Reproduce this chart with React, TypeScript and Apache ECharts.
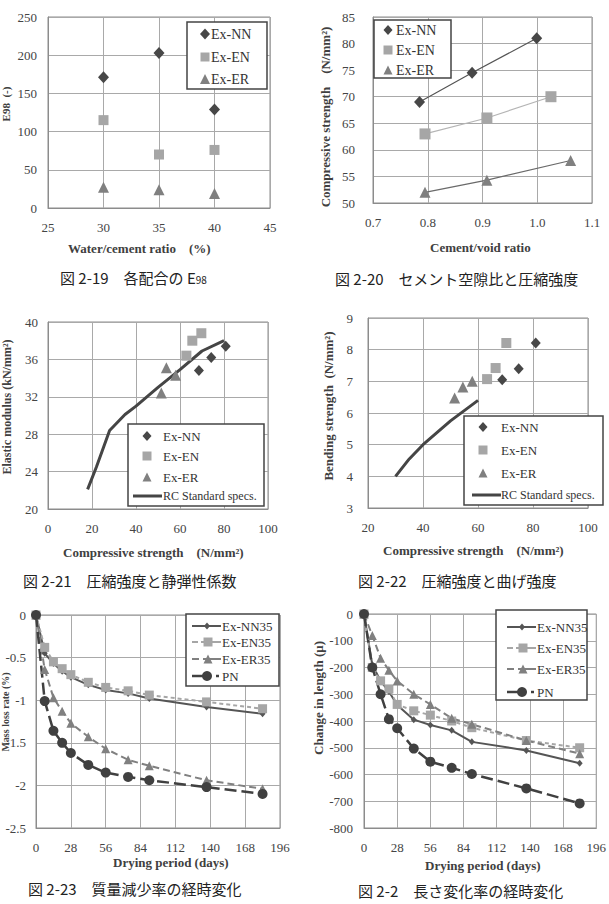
import React, { useEffect, useRef } from "react";
import * as echarts from "echarts";

const SERIF = '"Liberation Serif", "Times New Roman", serif';
const CJK = '"Noto Sans CJK JP", sans-serif';

// ---- Fig 2-19 ----
const C1_X = [30, 35, 40];
const C1_NN = [171, 203, 129];
const C1_EN = [115, 70, 76];
const C1_ER = [27, 24, 19];

// ---- Fig 2-20 ----
const C2_NN_X = [0.785, 0.881, 0.999];
const C2_NN_Y = [69, 74.5, 81];
const C2_EN_X = [0.795, 0.908, 1.025];
const C2_EN_Y = [63, 66, 70];
const C2_ER_X = [0.795, 0.908, 1.061];
const C2_ER_Y = [52, 54.3, 58];

// ---- Fig 2-21 ----
const C3_NN_X = [68.6, 74.2, 80.8];
const C3_NN_Y = [34.8, 36.2, 37.4];
const C3_EN_X = [62.9, 65.6, 69.7];
const C3_EN_Y = [36.4, 38.0, 38.8];
const C3_ER_X = [51.5, 53.8, 58.0];
const C3_ER_Y = [32.4, 35.1, 34.3];
const C3_RC_X = [18, 22, 28, 35, 40, 50, 60, 70, 80];
const C3_RC_Y = [22.1, 24.5, 28.4, 30.1, 31.0, 33.0, 34.9, 36.9, 38.0];

// ---- Fig 2-22 ----
const C4_NN_X = [68.8, 74.8, 81.0];
const C4_NN_Y = [7.05, 7.4, 8.21];
const C4_EN_X = [63.3, 66.4, 70.3];
const C4_EN_Y = [7.07, 7.42, 8.21];
const C4_ER_X = [51.5, 54.5, 57.9];
const C4_ER_Y = [6.47, 6.82, 7.0];
const C4_RC_X = [30, 35, 40, 50, 60];
const C4_RC_Y = [4.0, 4.55, 5.0, 5.75, 6.4];

// ---- Fig 2-23 / 2-2 ----
const DAYS = [0, 7, 14, 21, 28, 42, 56, 74, 91, 137, 182];
const C5_NN = [0, -0.45, -0.57, -0.66, -0.73, -0.82, -0.88, -0.92, -0.98, -1.08, -1.16];
const C5_EN = [0, -0.38, -0.55, -0.63, -0.7, -0.79, -0.85, -0.89, -0.94, -1.02, -1.1];
const C5_ER = [0, -0.64, -0.97, -1.13, -1.27, -1.43, -1.57, -1.7, -1.77, -1.94, -2.04];
const C5_PN = [0, -1.01, -1.36, -1.5, -1.62, -1.76, -1.85, -1.9, -1.94, -2.02, -2.1];

const C6_NN = [0, -190, -250, -290, -340, -395, -415, -435, -478, -510, -558];
const C6_EN = [0, -200, -250, -280, -338, -362, -378, -400, -425, -473, -500];
const C6_ER = [0, -80, -165, -210, -250, -300, -338, -390, -412, -473, -522];
const C6_PN = [0, -200, -300, -393, -427, -503, -552, -575, -598, -652, -708];

const zip = (xs: number[], ys: number[]) => xs.map((x, i) => [x, ys[i]]);

const COL_NN = "#474747";
const COL_EN = "#a6a6a6";
const COL_ER = "#808080";
const COL_PN = "#404040";
const COL_RC = "#454545";

const GRIDS = [
  { left: 48, top: 17, width: 222, height: 191 },
  { left: 373, top: 17, width: 219, height: 186 },
  { left: 48, top: 322, width: 220, height: 187 },
  { left: 368, top: 318, width: 220, height: 190 },
  { left: 36, top: 615, width: 244, height: 213 },
  { left: 364, top: 614, width: 233, height: 214 },
];

function axis(gridIndex: number, min: number, max: number, interval: number, margin: number, fmt?: (v: number) => string) {
  return {
    type: "value",
    gridIndex,
    min,
    max,
    interval,
    axisLine: { show: true, onZero: false, lineStyle: { color: "#8c8c8c", width: 1 } },
    axisTick: { show: false },
    splitLine: { show: true, lineStyle: { color: "#a9a9a9", width: 1 } },
    axisLabel: {
      color: "#444",
      fontFamily: SERIF,
      fontSize: 13,
      margin,
      showMinLabel: true,
      showMaxLabel: true,
      formatter: fmt,
    },
  };
}

function scatter(name: string, idx: number, data: number[][], symbol: string, size: any, color: string) {
  return {
    type: "scatter",
    name,
    xAxisIndex: idx,
    yAxisIndex: idx,
    data,
    symbol,
    symbolSize: size,
    itemStyle: { color, opacity: 1 },
    z: 3,
  };
}

function line(name: string, idx: number, data: number[][], symbol: string, size: any, color: string, lineColor: string, width: number, dash: any) {
  return {
    type: "line",
    name,
    xAxisIndex: idx,
    yAxisIndex: idx,
    data,
    symbol,
    symbolSize: size,
    showSymbol: symbol !== "none",
    itemStyle: { color, opacity: 1 },
    lineStyle: { color: lineColor, width, type: dash },
    z: 3,
  };
}

// ---- graphic helpers ----
const Z = 100;
function box(x: number, y: number, w: number, h: number) {
  return { type: "rect", z: Z, shape: { x, y, width: w, height: h }, style: { fill: "#fff", stroke: "#444", lineWidth: 1.5 } };
}
function diamond(cx: number, cy: number, w: number, h: number, color: string) {
  return { type: "polygon", z: Z + 1, shape: { points: [[cx, cy - h / 2], [cx + w / 2, cy], [cx, cy + h / 2], [cx - w / 2, cy]] }, style: { fill: color } };
}
function square(cx: number, cy: number, s: number, color: string) {
  return { type: "rect", z: Z + 1, shape: { x: cx - s / 2, y: cy - s / 2, width: s, height: s }, style: { fill: color } };
}
function tri(cx: number, cy: number, s: number, color: string) {
  return { type: "polygon", z: Z + 1, shape: { points: [[cx, cy - s / 2], [cx + s / 2, cy + s / 2], [cx - s / 2, cy + s / 2]] }, style: { fill: color } };
}
function circ(cx: number, cy: number, r: number, color: string) {
  return { type: "circle", z: Z + 1, shape: { cx, cy, r }, style: { fill: color } };
}
function seg(x1: number, x2: number, y: number, color: string, width: number, dash?: number[]) {
  return { type: "line", z: Z + 1, shape: { x1, y1: y, x2, y2: y }, style: { stroke: color, lineWidth: width, lineDash: dash } };
}
function txt(x: number, y: number, text: string, size: number, opts: any = {}) {
  return {
    type: "text",
    z: Z + 2,
    x,
    y,
    rotation: opts.rotation || 0,
    style: {
      text,
      fill: opts.color || "#333",
      fontFamily: opts.family || SERIF,
      fontSize: size,
      fontWeight: opts.weight || "normal",
      align: opts.align || "left",
      verticalAlign: "middle",
    },
  };
}
function bold(x: number, y: number, text: string, align = "left", rotation = 0, size = 13) {
  return txt(x, y, text, size, { weight: "bold", align, rotation, color: "#404040" });
}
function caption(x: number, y: number, text: string) {
  return txt(x, y, text, 15, { family: CJK, color: "#222" });
}

export default function App() {
  const ref = useRef<HTMLDivElement>(null);
  useEffect(() => {
    if (!ref.current) return;
    const chart = echarts.init(ref.current, undefined, { renderer: "svg" });
    const R = Math.PI / 2;
    const graphic: any[] = [
      // legend 1
      box(187, 22, 80, 67),
      diamond(205, 34, 10, 11, COL_NN),
      txt(211, 34, "Ex-NN", 14),
      square(205, 57, 9, COL_EN),
      txt(211, 57, "Ex-EN", 14),
      tri(205, 79, 10, COL_ER),
      txt(211, 79, "Ex-ER", 14),
      // legend 2
      box(374, 20, 77, 58),
      diamond(388, 30, 9, 10, COL_NN),
      txt(396, 30, "Ex-NN", 14),
      square(388, 50, 9, COL_EN),
      txt(396, 50, "Ex-EN", 14),
      tri(388, 70, 9, COL_ER),
      txt(396, 70, "Ex-ER", 14),
      // legend 3
      box(128, 424, 136, 82),
      diamond(147, 436, 9, 10, COL_NN),
      txt(163, 436, "Ex-NN", 13),
      square(147, 456, 9, COL_EN),
      txt(163, 456, "Ex-EN", 13),
      tri(147, 477, 9, COL_ER),
      txt(163, 477, "Ex-ER", 13),
      seg(133, 162, 496, COL_RC, 3),
      txt(163, 496, "RC Standard specs.", 12),
      // legend 4
      box(464, 416, 139, 89),
      diamond(483, 427, 9, 10, COL_NN),
      txt(501, 427, "Ex-NN", 13),
      square(483, 450, 9, COL_EN),
      txt(501, 450, "Ex-EN", 13),
      tri(483, 473, 9, COL_ER),
      txt(501, 473, "Ex-ER", 13),
      seg(472, 501, 495, COL_RC, 3),
      txt(501, 495, "RC Standard specs.", 12),
      // legend 5
      box(186, 614, 93, 72),
      seg(192, 221, 626, "#555", 2),
      diamond(207, 626, 6, 7, "#555"),
      txt(222, 626, "Ex-NN35", 13),
      seg(192, 198, 642, COL_EN, 2),
      seg(201, 221, 642, COL_EN, 2),
      square(208, 642, 9, COL_EN),
      txt(222, 642, "Ex-EN35", 13),
      seg(192, 199, 659, COL_ER, 2),
      seg(203, 221, 659, COL_ER, 2),
      tri(208, 659, 9, COL_ER),
      txt(222, 659, "Ex-ER35", 13),
      seg(192, 211, 676, COL_PN, 2.5),
      seg(216, 219, 676, COL_PN, 2.5),
      circ(207, 676, 5, COL_PN),
      txt(222, 676, "PN", 13),
      // legend 6
      box(496, 610, 91, 90),
      seg(507, 536, 627, "#555", 2),
      diamond(522, 627, 6, 7, "#555"),
      txt(537, 627, "Ex-NN35", 13),
      seg(507, 513, 648, COL_EN, 2),
      seg(516, 536, 648, COL_EN, 2),
      square(523, 648, 9, COL_EN),
      txt(537, 648, "Ex-EN35", 13),
      seg(507, 514, 669, COL_ER, 2),
      seg(518, 536, 669, COL_ER, 2),
      tri(523, 669, 9, COL_ER),
      txt(537, 669, "Ex-ER35", 13),
      seg(507, 526, 692, COL_PN, 2.5),
      seg(531, 534, 692, COL_PN, 2.5),
      circ(522, 692, 5, COL_PN),
      txt(537, 692, "PN", 13),
      // axis names
      bold(68, 248, "Water/cement ratio    (%)"),
      bold(6, 104, "E98  (-)", "center", R, 11),
      bold(430, 247, "Cement/void ratio"),
      bold(325, 117, "Compressive strength    (N/mm²)", "center", R),
      bold(63, 552, "Compressive strength    (N/mm²)"),
      bold(7, 407, "Elastic modulus (kN/mm²)", "center", R, 12),
      bold(383, 550, "Compressive strength    (N/mm²)"),
      bold(328, 406, "Bending strength  (N/mm²)", "center", R),
      bold(113, 862, "Drying period (days)"),
      bold(5, 712, "Mass loss rate (%)", "center", R, 10),
      bold(425, 865, "Drying period (days)"),
      bold(318, 698, "Change in length (μ)", "center", R),
      // captions
      {
        type: "text",
        z: Z + 2,
        x: 60,
        y: 277,
        style: {
          text: "{a|図 2-19　各配合の E}{b|98}",
          fill: "#222",
          verticalAlign: "middle",
          rich: {
            a: { fontFamily: CJK, fontSize: 15, fill: "#222", verticalAlign: "bottom" },
            b: { fontFamily: CJK, fontSize: 10, fill: "#222", verticalAlign: "bottom" },
          },
        },
      },
      caption(335, 278, "図 2-20　セメント空隙比と圧縮強度"),
      caption(23, 580, "図 2-21　圧縮強度と静弾性係数"),
      caption(358, 580, "図 2-22　圧縮強度と曲げ強度"),
      caption(28, 888, "図 2-23　質量減少率の経時変化"),
      caption(358, 890, "図 2-2　長さ変化率の経時変化"),
    ];

    chart.setOption({
      animation: false,
      backgroundColor: "#fff",
      grid: GRIDS.map((g) => ({ ...g, show: true, borderColor: "#8c8c8c", borderWidth: 1, backgroundColor: "transparent" })),
      xAxis: [
        axis(0, 25, 45, 5, 13),
        axis(1, 0.7, 1.1, 0.1, 13, (v: number) => v.toFixed(1)),
        axis(2, 0, 100, 20, 13),
        axis(3, 20, 100, 20, 13),
        axis(4, 0, 196, 28, 13),
        axis(5, 0, 196, 28, 13),
      ],
      yAxis: [
        axis(0, 0, 250, 50, 11),
        axis(1, 50, 85, 5, 18),
        axis(2, 20, 40, 4, 10),
        axis(3, 3, 9, 1, 15),
        axis(4, -2.5, 0, 0.5, 10),
        axis(5, -800, 0, 100, 11),
      ],
      series: [
        scatter("Ex-NN", 0, zip(C1_X, C1_NN), "diamond", [11, 12], COL_NN),
        scatter("Ex-EN", 0, zip(C1_X, C1_EN), "rect", 10, COL_EN),
        scatter("Ex-ER", 0, zip(C1_X, C1_ER), "triangle", 11, COL_ER),

        line("Ex-NN", 1, zip(C2_NN_X, C2_NN_Y), "diamond", [11, 12], COL_NN, "#555", 1.2, "solid"),
        line("Ex-EN", 1, zip(C2_EN_X, C2_EN_Y), "rect", 11, COL_EN, "#b5b5b5", 1.2, "solid"),
        line("Ex-ER", 1, zip(C2_ER_X, C2_ER_Y), "triangle", 11, COL_ER, "#6a6a6a", 1.2, "solid"),

        line("RC Standard specs.", 2, zip(C3_RC_X, C3_RC_Y), "none", 0, COL_RC, COL_RC, 3, "solid"),
        scatter("Ex-NN", 2, zip(C3_NN_X, C3_NN_Y), "diamond", [10, 11], COL_NN),
        scatter("Ex-EN", 2, zip(C3_EN_X, C3_EN_Y), "rect", 10, COL_EN),
        scatter("Ex-ER", 2, zip(C3_ER_X, C3_ER_Y), "triangle", 11, COL_ER),

        line("RC Standard specs.", 3, zip(C4_RC_X, C4_RC_Y), "none", 0, COL_RC, COL_RC, 3, "solid"),
        scatter("Ex-NN", 3, zip(C4_NN_X, C4_NN_Y), "diamond", [10, 11], COL_NN),
        scatter("Ex-EN", 3, zip(C4_EN_X, C4_EN_Y), "rect", 10, COL_EN),
        scatter("Ex-ER", 3, zip(C4_ER_X, C4_ER_Y), "triangle", 11, COL_ER),

        line("Ex-NN35", 4, zip(DAYS, C5_NN), "diamond", [6, 7], "#555", "#555", 2, "solid"),
        line("Ex-EN35", 4, zip(DAYS, C5_EN), "rect", 9, COL_EN, COL_EN, 2, [4, 3]),
        line("Ex-ER35", 4, zip(DAYS, C5_ER), "triangle", 9, COL_ER, COL_ER, 2, [7, 4]),
        line("PN", 4, zip(DAYS, C5_PN), "circle", 10, COL_PN, COL_PN, 2.5, [12, 5]),

        line("Ex-NN35", 5, zip(DAYS, C6_NN), "diamond", [6, 7], "#555", "#555", 2, "solid"),
        line("Ex-EN35", 5, zip(DAYS, C6_EN), "rect", 9, COL_EN, COL_EN, 2, [4, 3]),
        line("Ex-ER35", 5, zip(DAYS, C6_ER), "triangle", 9, COL_ER, COL_ER, 2, [7, 4]),
        line("PN", 5, zip(DAYS, C6_PN), "circle", 10, COL_PN, COL_PN, 2.5, [12, 5]),
      ],
      graphic,
    });
    return () => chart.dispose();
  }, []);
  return (
    <div
      ref={ref}
      style={{ position: "fixed", left: 0, top: 0, width: 609, height: 904, background: "#fff" }}
    />
  );
}
